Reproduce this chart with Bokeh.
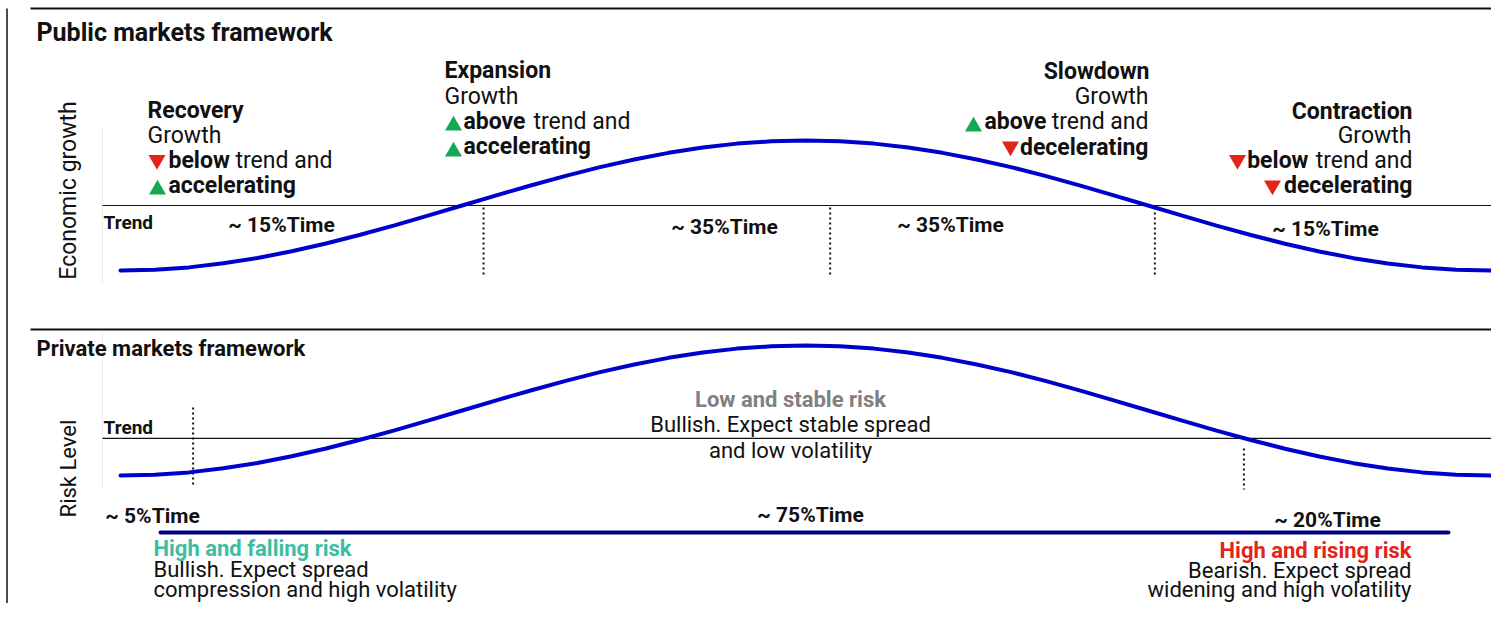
import math
from bokeh.plotting import figure
from bokeh.models import Range1d
from bokeh.core.properties import value
from bokeh.embed import file_html
from bokeh.resources import INLINE

# ---------------- data ----------------
cycle_pos = [0, 2.5, 5, 7.5, 10, 12.5, 15, 17.5, 20, 22.5, 25, 27.5, 30, 32.5, 35, 37.5, 40,
             42.5, 45, 47.5, 50, 52.5, 55, 57.5, 60, 62.5, 65, 67.5, 70, 72.5, 75, 77.5, 80,
             82.5, 85, 87.5, 90, 92.5, 95, 97.5, 100]
public_level = [0, 0.6, 2.4, 5.5, 9.6, 14.8, 20.8, 27.5, 34.7, 42.4, 50.2, 58.0, 65.6, 72.8, 79.5,
                85.4, 90.5, 94.6, 97.6, 99.4, 100, 99.4, 97.6, 94.6, 90.5, 85.4, 79.5, 72.8, 65.5,
                57.8, 50.0, 42.2, 34.5, 27.3, 20.6, 14.6, 9.5, 5.4, 2.4, 0.6, 0]
private_level = [0, 0.6, 2.4, 5.5, 9.6, 14.8, 20.8, 27.5, 34.7, 42.4, 50.2, 58.0, 65.6, 72.8, 79.5,
                 85.4, 90.5, 94.6, 97.6, 99.4, 100, 99.4, 97.6, 94.6, 90.5, 85.4, 79.5, 72.8, 65.5,
                 57.8, 50.0, 42.2, 34.5, 27.3, 20.6, 14.6, 9.5, 5.4, 2.4, 0.6, 0]
public_trend = 50
private_trend = 28.5
public_phases = ["Recovery", "Expansion", "Slowdown", "Contraction"]
public_time_share = [15, 35, 35, 15]
public_boundaries = [26.5, 51.8, 75.5]
private_regimes = ["High and falling risk", "Low and stable risk", "High and rising risk"]
private_time_share = [5, 75, 20]
private_boundaries = [5.3, 82.0]

# ---------------- layout ----------------
W, H = 1491, 603
X0, X1 = 0, W
Y0, Y1 = 0, H
FONT = "Roboto"
INK = "#111111"
RED = "#e3241b"
GREEN = "#15a852"
TEAL = "#3dbea2"
BLUE = "#0000cc"
NAVY = "#000080"
TOP = 23      # phase descriptions
LOW = 22      # regime descriptions
BASE_SHIFT = 0.35   # alphabetic-baseline correction, in em


def lin_range(v0, p0, v1, p1, lo, hi):
    s = (p1 - p0) / (v1 - v0)
    return Range1d(start=v0 + (lo - p0) / s, end=v0 + (hi - p0) / s)


p = figure(width=W, height=H, output_backend="svg", toolbar_location=None,
           x_range=Range1d(X0, X1), y_range=Range1d(Y1, Y0),
           x_axis_location=None, y_axis_location=None, min_border=0,
           outline_line_color=None, background_fill_color="white")
p.grid.visible = False

p.extra_x_ranges = {"cycle": lin_range(0, 120, 100, 1490, X0, X1)}
p.extra_y_ranges = {"pub": lin_range(0, 270, 100, 140, Y1, Y0),
                    "priv": lin_range(0, 475, 100, 345, Y1, Y0)}


def txt(x, y, s, size=TOP, bold=False, color=INK, align="left", angle=0.0):
    d = BASE_SHIFT * size
    if angle:
        x -= d
    else:
        y -= d
    p.text(x=[x], y=[y], text=[s], text_font=value(FONT), text_font_size=f"{size}px",
           text_font_style="bold" if bold else "normal", text_color=color,
           text_align=align, text_baseline="alphabetic", angle=angle)


def tri(x, y, up):
    p.scatter(x=[x], y=[y], marker="triangle" if up else "inverted_triangle", size=17,
              fill_color=GREEN if up else RED, line_color=None)


# frame lines
p.segment(x0=[6.5], y0=[8], x1=[6.5], y1=[H], line_color=INK, line_width=1.5)
p.segment(x0=[30, 30], y0=[8, 329], x1=[X1, X1], y1=[8, 329], line_color=INK, line_width=2)
p.segment(x0=[102, 102], y0=[128, 333], x1=[102, 102], y1=[283, 488], line_color="#ececec", line_width=1)

# ---------------- top panel ----------------
txt(36, 41, "Public markets framework", size=25, bold=True)
txt(76, 190, "Economic growth", size=23, align="center", angle=math.pi / 2)

p.segment(x0=[102], y0=[public_trend], x1=[X1], y1=[public_trend], y_range_name="pub",
          line_color=INK, line_width=1.2)
p.segment(x0=public_boundaries, y0=[207] * 3, x1=public_boundaries, y1=[277] * 3,
          x_range_name="cycle", line_color=INK, line_width=2, line_dash="2 3")
p.line(cycle_pos, public_level, x_range_name="cycle", y_range_name="pub",
       line_color=BLUE, line_width=4, line_cap="round")
txt(103, 229, "Trend", size=19, bold=True)

# Recovery
txt(147, 118, public_phases[0], bold=True)
txt(147, 143, "Growth")
tri(156.5, 159.5, False); txt(168, 168, "below", bold=True); txt(235, 168, "trend and")
tri(157, 189, True); txt(168, 193, "accelerating", bold=True)
# Expansion
txt(444, 78, public_phases[1], bold=True)
txt(444, 104, "Growth")
tri(453, 125, True); txt(463, 129, "above", bold=True); txt(533, 129, "trend and")
tri(453, 151, True); txt(463, 154, "accelerating", bold=True)
# Slowdown
txt(1149, 79, public_phases[2], bold=True, align="right")
txt(1148, 104, "Growth", align="right")
tri(973, 126, True); txt(1046, 129, "above", bold=True, align="right"); txt(1148, 129, "trend and", align="right")
tri(1010, 146, False); txt(1148, 155, "decelerating", bold=True, align="right")
# Contraction
txt(1412, 119, public_phases[3], bold=True, align="right")
txt(1411, 143, "Growth", align="right")
tri(1237, 159.5, False); txt(1308, 168, "below", bold=True, align="right"); txt(1412, 168, "trend and", align="right")
tri(1272, 185, False); txt(1412, 193, "decelerating", bold=True, align="right")

for cx, cy, share in zip([281, 724, 950, 1325], [232, 234, 232, 236], public_time_share):
    txt(cx, cy, f"~ {share}%Time", size=21, bold=True, align="center")

# ---------------- bottom panel ----------------
txt(36, 356, "Private markets framework", size=22, bold=True)
txt(76, 468, "Risk Level", size=22, align="center", angle=math.pi / 2)

p.segment(x0=[102], y0=[private_trend], x1=[X1], y1=[private_trend], y_range_name="priv",
          line_color=INK, line_width=1.2)
p.segment(x0=private_boundaries, y0=[407, 448], x1=private_boundaries, y1=[487, 489],
          x_range_name="cycle", line_color=INK, line_width=2, line_dash="2 3")
p.line(cycle_pos, private_level, x_range_name="cycle", y_range_name="priv",
       line_color=BLUE, line_width=4, line_cap="round")
txt(103, 434, "Trend", size=19, bold=True)

p.segment(x0=[160], y0=[532], x1=[1448], y1=[532], line_color=NAVY, line_width=4, line_cap="round")
for cx, cy, share in zip([152, 810, 1327], [523, 522, 527], private_time_share):
    txt(cx, cy, f"~ {share}%Time", size=21, bold=True, align="center")

txt(790, 407, private_regimes[1], size=LOW, bold=True, color="#808080", align="center")
txt(790, 432, "Bullish. Expect stable spread", size=LOW, align="center")
txt(790, 458, "and low volatility", size=LOW, align="center")

txt(153, 556, private_regimes[0], size=LOW, bold=True, color=TEAL)
txt(153, 577, "Bullish. Expect spread", size=LOW)
txt(153, 597, "compression and high volatility", size=LOW)

txt(1411, 558, private_regimes[2], size=LOW, bold=True, color=RED, align="right")
txt(1411, 578, "Bearish. Expect spread", size=LOW, align="right")
txt(1411, 597, "widening and high volatility", size=LOW, align="right")

open("out.html", "w").write(file_html(p, INLINE))
